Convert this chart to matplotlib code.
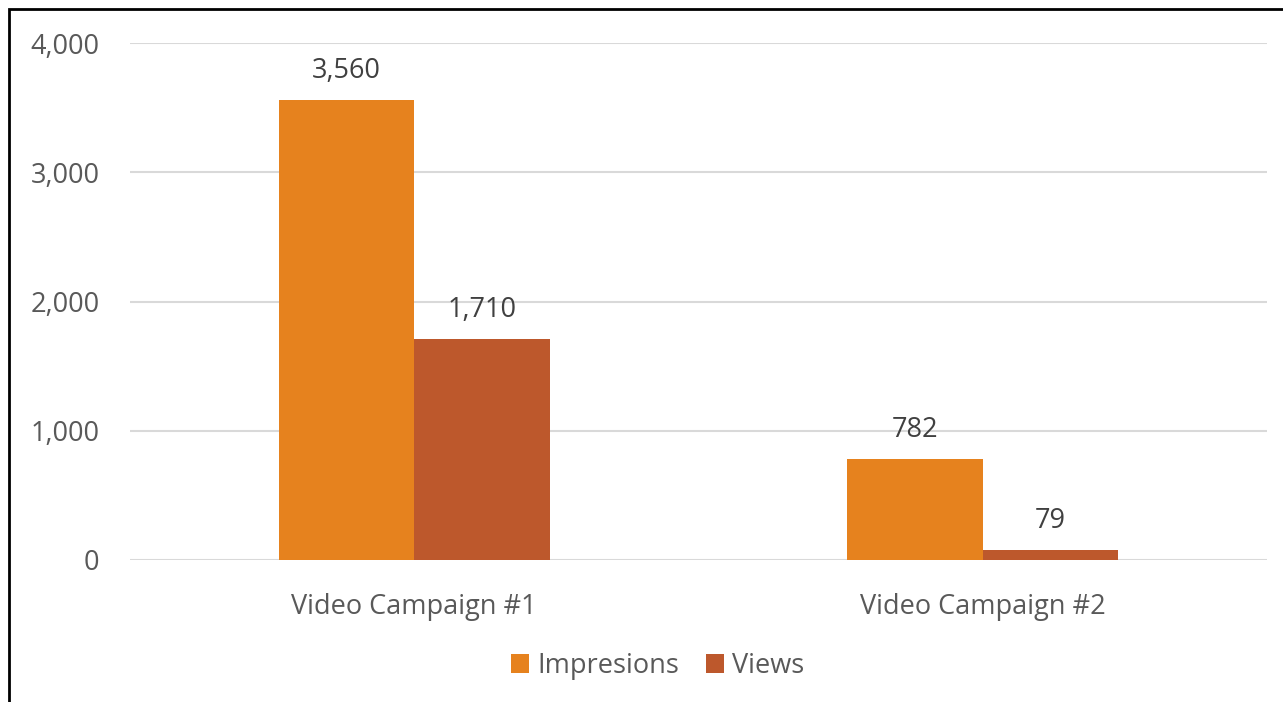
import matplotlib.pyplot as plt
import matplotlib.patches as patches
import numpy as np

categories = ['Video Campaign #1', 'Video Campaign #2']
impressions = [3560, 782]
views = [1710, 79]
yticks = [0, 1000, 2000, 3000, 4000]

plt.rcParams['font.family'] = ['Open Sans', 'DejaVu Sans']
txt = '#595959'
fs = 19.5

fig = plt.figure(figsize=(12.83, 7.02), dpi=100)
W, H = 1283, 702
ax = fig.add_axes([130 / W, 1 - 560 / H, (1267 - 130) / W, (560 - 43) / H])

x = np.arange(len(categories))
w = 0.238
b1 = ax.bar(x - w / 2, impressions, w, color='#E6821E', label='Impresions', zorder=3)
b2 = ax.bar(x + w / 2, views, w, color='#BD582C', label='Views', zorder=3)

for bars in (b1, b2):
    for r in bars:
        ax.annotate(f'{int(r.get_height()):,}', (r.get_x() + r.get_width() / 2, r.get_height()),
                    xytext=(0, 21), textcoords='offset points', ha='center', va='center',
                    fontsize=fs, color='#404040')

ax.set_xlim(-0.5, 1.5)
ax.set_ylim(0, 4000)
ax.set_yticks(yticks)
ax.set_yticklabels([f'{v:,}' for v in yticks])
ax.set_xticks(x)
ax.set_xticklabels(categories)
ax.tick_params(axis='y', length=0, pad=22, labelsize=fs, labelcolor=txt)
ax.tick_params(axis='x', length=0, pad=24, labelsize=fs, labelcolor=txt)
ax.grid(axis='y', color='#D9D9D9', lw=1.5, zorder=0)
for s in ax.spines.values():
    s.set_visible(False)

ax.legend(loc='center', bbox_to_anchor=(0.464, -0.205), ncol=2, frameon=False,
          fontsize=fs, labelcolor=txt, handlelength=0.65, handleheight=0.65,
          handletextpad=0.3, columnspacing=1.0)

fig.patches.append(patches.Rectangle((8.5 / W, -0.1), 1.2, (H - 8.5) / H + 0.1,
                                     transform=fig.transFigure, fill=False,
                                     edgecolor='black', lw=2))

fig.savefig('out.png', dpi=100)
